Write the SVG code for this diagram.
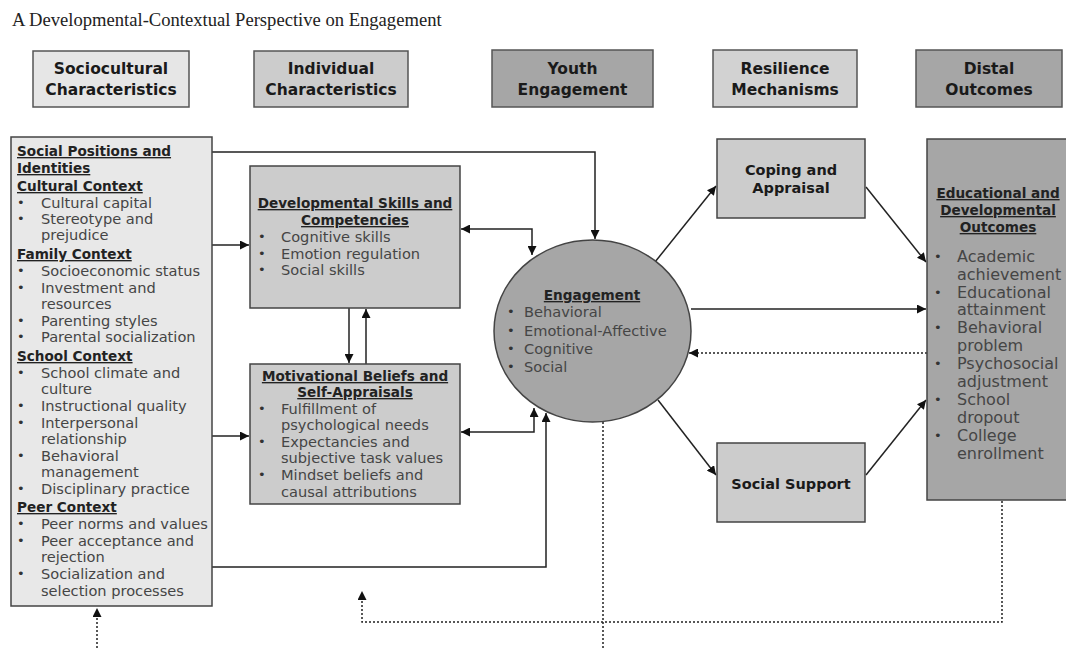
<svg xmlns="http://www.w3.org/2000/svg" width="1066" height="648" viewBox="0 0 1066 648">
<defs>
<marker id="ah" viewBox="0 0 10 10" refX="10" refY="5" markerWidth="9" markerHeight="9" markerUnits="userSpaceOnUse" orient="auto-start-reverse">
<path d="M0,0 L10,5 L0,10 z" fill="#111"/>
</marker>
</defs>
<style>
.title{font-family:"Liberation Serif",serif;font-size:18.6px;fill:#222}
.hbox{stroke:#555;stroke-width:1.5}
.hdr{font-family:"DejaVu Sans",sans-serif;font-weight:bold;font-size:15.5px;fill:#1a1a1a;text-anchor:middle}
.box{stroke:#444;stroke-width:1.5}
.lbl{font-family:"DejaVu Sans",sans-serif;font-weight:bold;font-size:14.5px;fill:#1a1a1a;text-anchor:middle}
.h{font-family:"DejaVu Sans",sans-serif;font-weight:bold;font-size:13.6px;fill:#222;text-decoration:underline}
.hc{font-family:"DejaVu Sans",sans-serif;font-weight:bold;font-size:13.6px;fill:#222;text-decoration:underline;text-anchor:middle}
.t{font-family:"DejaVu Sans",sans-serif;font-size:14.6px;fill:#454545}
.t16{font-family:"DejaVu Sans",sans-serif;font-size:16px;fill:#454545}
.b{font-family:"DejaVu Sans",sans-serif;font-size:13px;fill:#333}
.c{fill:none;stroke:#222;stroke-width:1.5}
.d{fill:none;stroke:#222;stroke-width:1.5;stroke-dasharray:2 2}
.light{fill:#e6e6e6}
.mid{fill:#cccccc}
.dark{fill:#a6a6a6}
</style>
<rect width="1066" height="648" fill="#fff"/>
<text class="title" x="12" y="26">A Developmental-Contextual Perspective on Engagement</text>

<g id="hdr-socio">
<rect class="hbox light" x="33" y="51" width="156" height="56"/>
<text class="hdr" x="111" y="74">Sociocultural</text>
<text class="hdr" x="111" y="95">Characteristics</text>
</g>
<g id="hdr-indiv">
<rect class="hbox mid" x="254" y="51" width="154" height="56"/>
<text class="hdr" x="331" y="74">Individual</text>
<text class="hdr" x="331" y="95">Characteristics</text>
</g>
<g id="hdr-youth">
<rect class="hbox dark" x="492" y="50" width="161" height="57"/>
<text class="hdr" x="572.5" y="74">Youth</text>
<text class="hdr" x="572.5" y="95">Engagement</text>
</g>
<g id="hdr-resil">
<rect class="hbox" fill="#d2d2d2" x="713" y="50" width="144" height="57"/>
<text class="hdr" x="785" y="74">Resilience</text>
<text class="hdr" x="785" y="95">Mechanisms</text>
</g>
<g id="hdr-distal">
<rect class="hbox dark" x="916" y="50" width="146" height="57"/>
<text class="hdr" x="989" y="74">Distal</text>
<text class="hdr" x="989" y="95">Outcomes</text>
</g>

<g id="connectors">
<path class="c" d="M212,152 H595 V239" marker-end="url(#ah)"/>
<path class="c" d="M212,245 H249" marker-end="url(#ah)"/>
<path class="c" d="M212,436 H249" marker-end="url(#ah)"/>
<path class="c" d="M212,567 H546 V413" marker-end="url(#ah)"/>
<path class="c" d="M461,229 H532 V255" marker-start="url(#ah)" marker-end="url(#ah)"/>
<path class="c" d="M461,432 H534 V408" marker-start="url(#ah)" marker-end="url(#ah)"/>
<path class="c" d="M349,308 V363" marker-end="url(#ah)"/>
<path class="c" d="M366,364 V309" marker-end="url(#ah)"/>
<path class="c" d="M655,262 L716,186" marker-end="url(#ah)"/>
<path class="c" d="M866,187 L926,262" marker-end="url(#ah)"/>
<path class="c" d="M691,309 H926" marker-end="url(#ah)"/>
<path class="d" d="M927,353 H689" marker-end="url(#ah)"/>
<path class="c" d="M658,400 L716,475" marker-end="url(#ah)"/>
<path class="c" d="M866,475 L926,400" marker-end="url(#ah)"/>
<path class="d" d="M603,422 V648"/>
<path class="d" d="M1002,501 V622 H362 V591" marker-end="url(#ah)"/>
<path class="d" d="M97,648 V608" marker-end="url(#ah)"/>
</g>

<g id="socio-box">
<rect class="box" fill="#e8e8e8" x="11" y="137" width="201" height="469"/>
<text class="h" x="17" y="156">Social Positions and</text>
<text class="h" x="17" y="173">Identities</text>
<text class="h" x="17" y="191">Cultural Context</text>
<text class="b" x="17" y="207">•</text><text class="t" x="41" y="208">Cultural capital</text>
<text class="b" x="17" y="223">•</text><text class="t" x="41" y="224">Stereotype and</text>
<text class="t" x="41" y="240">prejudice</text>
<text class="h" x="17" y="259">Family Context</text>
<text class="b" x="17" y="275">•</text><text class="t" x="41" y="276">Socioeconomic status</text>
<text class="b" x="17" y="292">•</text><text class="t" x="41" y="293">Investment and</text>
<text class="t" x="41" y="309">resources</text>
<text class="b" x="17" y="325">•</text><text class="t" x="41" y="326">Parenting styles</text>
<text class="b" x="17" y="341">•</text><text class="t" x="41" y="342">Parental socialization</text>
<text class="h" x="17" y="361">School Context</text>
<text class="b" x="17" y="377">•</text><text class="t" x="41" y="378">School climate and</text>
<text class="t" x="41" y="394">culture</text>
<text class="b" x="17" y="410">•</text><text class="t" x="41" y="411">Instructional quality</text>
<text class="b" x="17" y="427">•</text><text class="t" x="41" y="428">Interpersonal</text>
<text class="t" x="41" y="444">relationship</text>
<text class="b" x="17" y="460">•</text><text class="t" x="41" y="461">Behavioral</text>
<text class="t" x="41" y="477">management</text>
<text class="b" x="17" y="493">•</text><text class="t" x="41" y="494">Disciplinary practice</text>
<text class="h" x="17" y="512">Peer Context</text>
<text class="b" x="17" y="528">•</text><text class="t" x="41" y="529">Peer norms and values</text>
<text class="b" x="17" y="545">•</text><text class="t" x="41" y="546">Peer acceptance and</text>
<text class="t" x="41" y="562">rejection</text>
<text class="b" x="17" y="578">•</text><text class="t" x="41" y="579">Socialization and</text>
<text class="t" x="41" y="596">selection processes</text>
</g>

<g id="dev-box">
<rect class="box mid" x="250" y="166" width="210" height="142"/>
<text class="hc" x="355" y="208">Developmental Skills and</text>
<text class="hc" x="355" y="225">Competencies</text>
<text class="b" x="258" y="241">•</text><text class="t" x="281" y="242">Cognitive skills</text>
<text class="b" x="258" y="258">•</text><text class="t" x="281" y="259">Emotion regulation</text>
<text class="b" x="258" y="274">•</text><text class="t" x="281" y="275">Social skills</text>
</g>

<g id="motiv-box">
<rect class="box mid" x="250" y="364" width="210" height="140"/>
<text class="hc" x="355" y="381">Motivational Beliefs and</text>
<text class="hc" x="355" y="397">Self-Appraisals</text>
<text class="b" x="258" y="413">•</text><text class="t" x="281" y="414">Fulfillment of</text>
<text class="t" x="281" y="430">psychological needs</text>
<text class="b" x="258" y="446">•</text><text class="t" x="281" y="447">Expectancies and</text>
<text class="t" x="281" y="463">subjective task values</text>
<text class="b" x="258" y="479">•</text><text class="t" x="281" y="480">Mindset beliefs and</text>
<text class="t" x="281" y="497">causal attributions</text>
</g>

<g id="engagement">
<ellipse class="box dark" cx="592.5" cy="331" rx="98.5" ry="91"/>
<text class="hc" x="592" y="300" font-size="14">Engagement</text>
<text class="b" x="507" y="316">•</text><text class="t" x="524" y="317">Behavioral</text>
<text class="b" x="507" y="335">•</text><text class="t" x="524" y="336">Emotional-Affective</text>
<text class="b" x="507" y="353">•</text><text class="t" x="524" y="354">Cognitive</text>
<text class="b" x="507" y="371">•</text><text class="t" x="524" y="372">Social</text>
</g>

<g id="coping">
<rect class="box mid" x="717" y="139" width="148" height="79"/>
<text class="lbl" x="791" y="175">Coping and</text>
<text class="lbl" x="791" y="193">Appraisal</text>
</g>

<g id="support">
<rect class="box mid" x="717" y="443" width="148" height="79"/>
<text class="lbl" x="791" y="489">Social Support</text>
</g>

<g id="outcomes">
<rect class="box dark" x="927" y="139" width="145" height="361"/>
<text class="hc" x="998" y="198" font-size="14">Educational and</text>
<text class="hc" x="998" y="215" font-size="14">Developmental</text>
<text class="hc" x="998" y="232" font-size="14">Outcomes</text>
<text class="b" x="934" y="261">•</text><text class="t16" x="957" y="262">Academic</text>
<text class="t16" x="957" y="280">achievement</text>
<text class="b" x="934" y="297">•</text><text class="t16" x="957" y="298">Educational</text>
<text class="t16" x="957" y="315">attainment</text>
<text class="b" x="934" y="332">•</text><text class="t16" x="957" y="333">Behavioral</text>
<text class="t16" x="957" y="351">problem</text>
<text class="b" x="934" y="368">•</text><text class="t16" x="957" y="369">Psychosocial</text>
<text class="t16" x="957" y="387">adjustment</text>
<text class="b" x="934" y="404">•</text><text class="t16" x="957" y="405">School</text>
<text class="t16" x="957" y="423">dropout</text>
<text class="b" x="934" y="440">•</text><text class="t16" x="957" y="441">College</text>
<text class="t16" x="957" y="459">enrollment</text>
</g>
</svg>
